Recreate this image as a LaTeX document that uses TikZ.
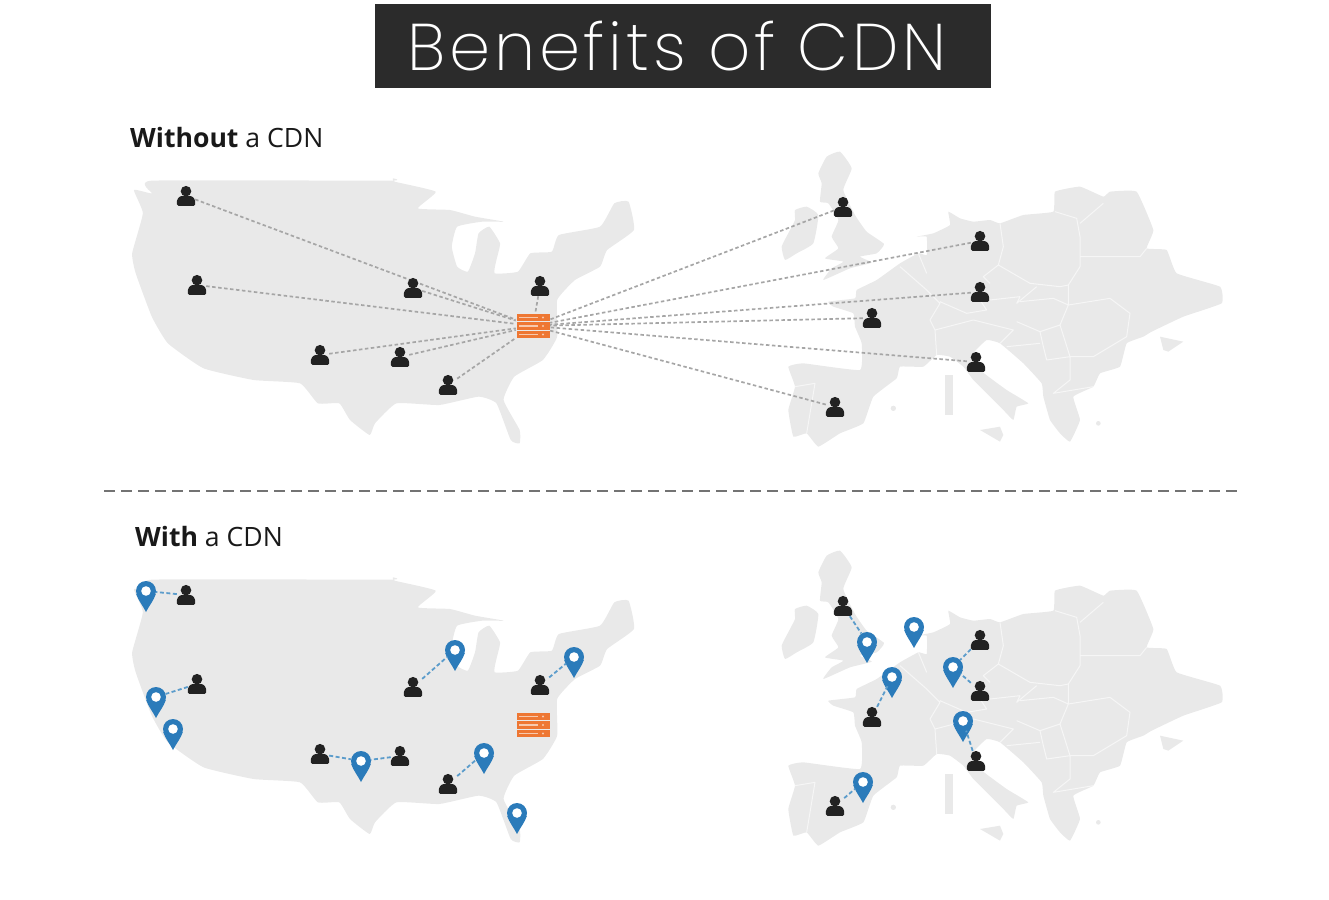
\documentclass[tikz,border=0pt]{standalone}
\usepackage{fontspec}
\setmainfont{Open Sans}
\newfontfamily\titlefont{Poppins ExtraLight}[LetterSpace=5.6]
\definecolor{mapgray}{HTML}{E9E9E9}
\definecolor{mapline}{HTML}{F6F6F6}
\definecolor{linkgray}{HTML}{A6A6A6}
\definecolor{userblack}{HTML}{222222}
\definecolor{pinblue}{HTML}{2B7BBA}
\definecolor{linkblue}{HTML}{5B9CCB}
\definecolor{serverorange}{HTML}{EE7733}
\definecolor{titlebg}{HTML}{2B2B2B}
\tikzset{
  usernode/.style={rectangle, minimum width=18pt, minimum height=20pt, inner sep=0pt},
  servernode/.style={rectangle, minimum width=34pt, minimum height=26pt, inner sep=0pt},
  pinnode/.style={circle, fill=pinblue, minimum size=20pt, inner sep=0pt},
  userlink/.style={linkgray, line width=1.7pt, dash pattern=on 3.5pt off 2.5pt},
  pinlink/.style={linkblue, line width=1.8pt, dash pattern=on 4pt off 2.5pt},
  heading/.style={anchor=west, inner sep=0pt, text=black!90, font=\fontsize{26.6}{30}\selectfont},
  usericon/.pic={
    \fill[userblack] (0,-4.8) circle (5.3);
    \fill[userblack, rounded corners=1.5pt] (-9.2,9.8) -- (-9.2,4) -- (-6,0) -- (6,0) -- (9.2,4) -- (9.2,9.8) -- cycle;
  },
  servericon/.pic={
    \foreach \r in {-8.5,0,8.5} {
      \fill[serverorange] (-16.5,\r-3.9) rectangle (16.5,\r+3.9);
      \fill[white!60!serverorange] (-14,\r-0.8) rectangle (5,\r+0.8);
      \fill[white!60!serverorange] (10,\r) circle (1.2);
    }
  },
  pinicon/.pic={
    \fill[pinblue] (-9.8,3) .. controls (-8,9) and (-3,15) .. (0,21) .. controls (3,15) and (8,9) .. (9.8,3) -- cycle;
    \fill[white] (0,0) circle (4.8);
  }
}
% both maps, typed in the coordinates of the top panel
\newcommand{\landmaps}{
  \begin{scope}[shift={(100,120)}, x=0.35714pt, y=-0.33333pt]
    \fill[mapgray] plot[smooth cycle, tension=0.25] coordinates {(145,182) (810,182) (820,175) (825,185) (940,215) (890,265) (980,270) (1050,290) (1130,305) (1070,305) (1000,320) (985,380) (1000,440) (1030,455) (1050,400) (1060,340) (1090,320) (1120,370) (1110,420) (1105,460) (1170,455) (1205,400) (1265,395) (1285,345) (1400,320) (1440,250) (1480,245) (1495,330) (1420,390) (1400,440) (1330,480) (1280,540) (1280,650) (1240,720) (1160,770) (1130,840) (1175,930) (1175,970) (1150,960) (1110,850) (1060,830) (950,855) (830,850) (770,910) (755,945) (700,900) (670,850) (610,850) (560,790) (430,780) (290,745) (190,670) (145,590) (100,460) (90,400) (120,280) (95,210) (145,220)};
  \end{scope}
  \begin{scope}[shift={(760,140)}, x=0.33333pt, y=-0.33333pt]
    % islands
    \fill[mapgray] plot[smooth cycle, tension=0.25] coordinates {(175,100) (200,50) (240,35) (275,85) (250,150) (285,225) (320,275) (372,312) (350,340) (300,350) (335,368) (270,385) (190,420) (215,385) (250,365) (195,355) (235,325) (215,290) (235,240) (205,190) (180,185) (185,130)};
    \fill[mapgray] plot[smooth cycle, tension=0.25] coordinates {(105,210) (140,200) (175,225) (160,310) (110,340) (75,360) (65,320) (90,270) (105,240)};
    \fill[mapgray] (660,870) -- (720,860) -- (730,885) -- (720,905) -- cycle;
    \fill[mapgray] (555,705) -- (580,705) -- (580,825) -- (555,825) -- cycle;
    \fill[mapgray] (1200,590) -- (1270,605) -- (1225,635) -- (1210,630) -- cycle;
    \fill[mapgray] (400,805) circle (8);
    \fill[mapgray] (1015,850) circle (7);
    % mainland
    \fill[mapgray] plot[smooth cycle, tension=0.2] coordinates {(205,485) (285,475) (290,450) (350,420) (420,370) (475,340) (500,345) (500,290) (470,290) (520,280) (570,255) (565,215) (600,235) (640,245) (690,240) (720,250) (790,225) (880,215) (885,155) (960,140) (1030,170) (1050,155) (1130,155) (1180,270) (1160,325) (1220,330) (1250,400) (1380,440) (1385,490) (1270,530) (1175,575) (1150,590) (1100,610) (1080,680) (1020,700) (1000,740) (940,770) (960,840) (930,905) (900,880) (870,840) (850,770) (845,730) (790,670) (720,610) (680,600) (640,640) (660,690) (740,750) (805,790) (770,800) (760,840) (730,810) (690,770) (640,720) (610,680) (570,650) (530,645) (490,680) (420,680) (410,715) (340,770) (310,850) (240,880) (175,920) (140,880) (100,890) (85,810) (105,740) (85,680) (130,670) (300,690) (305,610) (285,560) (280,520) (220,500)};
    % borders
    \draw[mapline, line width=1pt, line join=round]
      (720,250) -- (730,320) -- (715,375) -- (670,410) -- (690,430)
      (885,215) -- (950,235) -- (960,290) -- (960,380) -- (925,435) -- (925,495)
      (960,250) -- (1030,190)
      (960,350) -- (1140,350) -- (1160,325)
      (715,375) -- (810,430) -- (900,440) -- (925,435)
      (660,480) -- (680,510) -- (620,520) -- (540,485)
      (420,380) -- (500,450) -- (540,490) -- (510,540) -- (525,570) -- (530,645)
      (475,340) -- (500,400)
      (690,480) -- (780,470) -- (770,490) -- (830,440)
      (770,545) -- (840,575) -- (900,555) -- (925,495) -- (880,475) -- (780,485)
      (925,495) -- (1050,475) -- (1110,520) -- (1100,590) -- (1000,650) -- (930,650) -- (900,555)
      (525,570) -- (640,540) -- (760,570) -- (720,610)
      (930,650) -- (930,720) -- (880,760) -- (1000,740)
      (840,575) -- (850,620) -- (860,660) -- (930,650)
      (740,620) -- (840,610)
      (105,740) -- (165,730) -- (140,880);
  \end{scope}
}
\begin{document}
\begin{tikzpicture}[x=1pt, y=-1pt]
  \useasboundingbox (0,0) rectangle (1329,899);
  \landmaps
  \begin{scope}[shift={(0,399)}]
    \landmaps
  \end{scope}

  % Title and panel headings
  \node[fill=titlebg, minimum width=616pt, minimum height=84pt, inner sep=0pt] (titlebox) at (683,46) {};
  \node[text=white, inner sep=0pt, font=\titlefont\fontsize{66}{70}\selectfont] (title) at (677,46) {Benefits of CDN};
  \node[heading] (without) at (130,138) {\textbf{Without} a CDN};
  \node[heading] (with) at (135,537) {\textbf{With} a CDN};
  \coordinate (ruleL) at (104,491);
  \coordinate (ruleR) at (1237,491);
  \draw[black!55, line width=1.5pt, dash pattern=on 11pt off 6pt] (ruleL) -- (ruleR);

  % Without a CDN
  \node[servernode] (srvA) at (533,326) {};
  \pic at (srvA) {servericon};
  \foreach \name/\x/\y in {a1/186/196, a2/197/285, a3/413/288, a4/540/286, a5/320/355, a6/400/357, a7/448/385,
                           a8/843/207, a9/980/241, a10/980/292, a11/872/318, a12/976/362, a13/835/407} {
    \node[usernode] (\name) at (\x,\y) {};
    \pic at (\name) {usericon};
    \draw[userlink] (\name) -- (srvA);
  }

  % With a CDN
  \node[servernode] (srvB) at (533,725) {};
  \pic at (srvB) {servericon};
  \foreach \name/\x/\y in {b1/186/595, b2/197/684, b3/413/687, b4/540/685, b5/320/754, b6/400/756, b7/448/784,
                           b8/843/606, b9/980/640, b10/980/691, b11/872/717, b12/976/761, b13/835/806} {
    \node[usernode] (\name) at (\x,\y) {};
    \pic at (\name) {usericon};
  }
  \foreach \name/\x/\y in {p1/146/591, p2/156/697, p3/173/729, p4/455/650, p5/574/657, p6/361/761, p7/484/753, p8/517/813,
                           p9/867/642, p10/914/627, p11/892/677, p12/953/667, p13/963/721, p14/863/782} {
    \node[pinnode] (\name) at (\x,\y) {};
    \pic at (\name) {pinicon};
  }
  \foreach \a/\b in {b1/p1, b2/p2, b3/p4, b4/p5, b5/p6, b6/p6, b7/p7, b8/p9, b11/p11, b9/p12, b10/p12, b12/p13, b13/p14}
    \draw[pinlink] (\a) -- (\b);
\end{tikzpicture}
\end{document}
